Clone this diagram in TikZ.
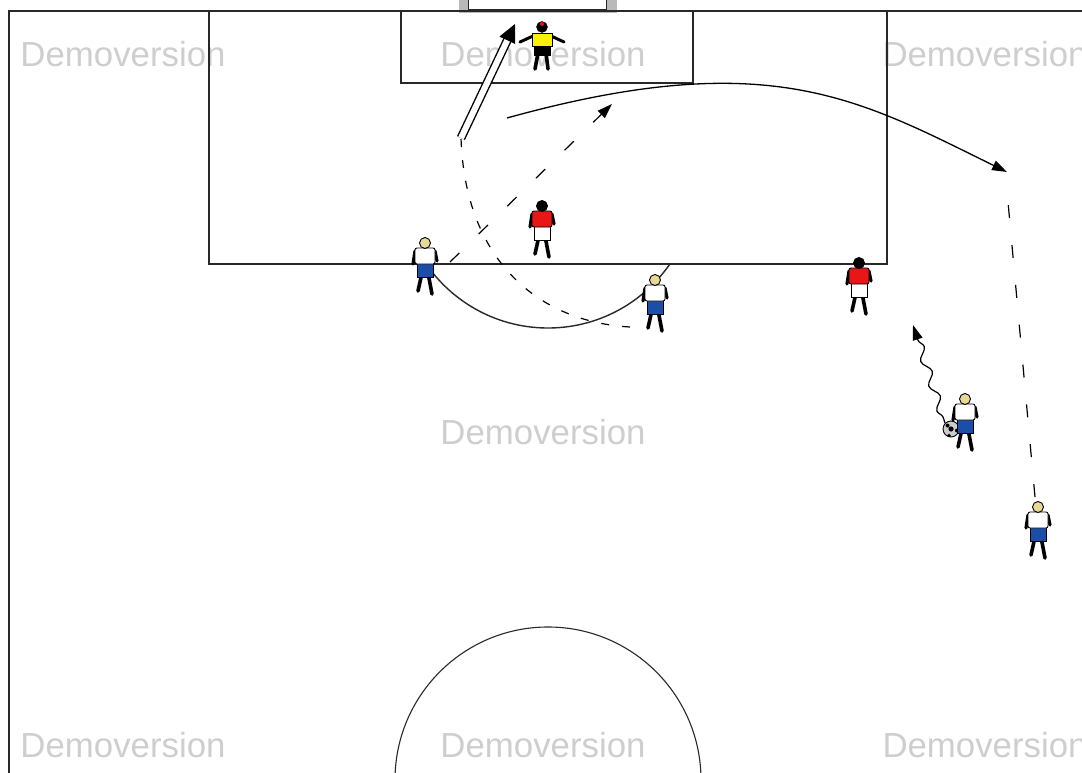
\documentclass[tikz,border=0pt]{standalone}
\usepackage{fontspec}
\setmainfont{Liberation Sans}
\usetikzlibrary{arrows.meta,decorations.pathmorphing}

\definecolor{markgray}{RGB}{206,206,206}
\definecolor{linegray}{RGB}{40,40,40}
\definecolor{shirtred}{RGB}{232,22,22}
\definecolor{shortsblue}{RGB}{28,78,168}
\definecolor{keeperyellow}{RGB}{250,240,10}
\definecolor{hairblond}{RGB}{232,216,150}

\tikzset{
  pics/player/.style n args={3}{code={
    \draw[line width=3.6pt, line cap=round] (-3,30) -- (-7,48) (3,30) -- (7,51);
    \filldraw[fill=#2, line width=0.9pt] (-8,19) rectangle (8,34);
    \draw[line width=3.2pt, line cap=round] (-10,8) -- (-12,21) (10,8) -- (12,18);
    \filldraw[fill=#1, line width=0.9pt, rounded corners=2pt] (-10,5) rectangle (10,21);
    \filldraw[fill=#3, line width=0.9pt] (0,0) circle (5.5);
  }},
  pics/keeper/.style={code={
    \draw[line width=3.6pt, line cap=round] (-4,26) -- (-7,42) (4,26) -- (6,42);
    \filldraw[fill=black] (-8,17) rectangle (8,28);
    \draw[line width=3pt, line cap=round] (-9,9) -- (-22,15) (9,9) -- (22,15);
    \filldraw[fill=keeperyellow, line width=0.9pt] (-10,6) rectangle (10,19);
    \filldraw[fill=black] (0,0) circle (5.5);
    \fill[shirtred] (0,-3) circle (2);
  }}
}

\begin{document}
\begin{tikzpicture}[
    x=1pt, y=-1pt,
    watermark/.style={text=markgray, anchor=base, inner sep=0pt,
      font=\fontsize{34.8}{40}\selectfont},
    pitch/.style={draw=linegray, line width=1.4pt},
    pass/.style={draw=black, line width=1.3pt, -{Triangle[length=15pt,width=10pt]}},
    run/.style={draw=black, line width=1.2pt, dash pattern=on 13pt off 27pt},
    runcurve/.style={draw=black, line width=1.2pt, dash pattern=on 8pt off 13pt},
    shot/.style={draw=black, line width=1.4pt, double=white, double distance=6pt,
      -{Triangle[length=18pt,width=17pt]}},
    dribble/.style={draw=black, line width=1.2pt, decorate,
      decoration={snake, amplitude=4pt, segment length=26pt, pre length=6pt, post length=14pt},
      -{Triangle[length=15pt,width=10pt]}}
    ]

    \useasboundingbox (0,0) rectangle (1082,773);
    \clip (0,0) rectangle (1082,773);

    \path foreach \x/\y [count=\i] in {123/67,543/67,985/67,543/444,123/757,543/757,985/757}
      {(\x,\y) node[watermark] (wm\i) {Demoversion}};

    % goal
    \fill[gray!55] (459,-2) rectangle (617,13);
    \fill[white] (468,-2) rectangle (606,10);
    \draw[linegray, line width=1pt] (468,-2) -- (468,10) -- (606,10) -- (606,-2);

    % lines of the pitch
    \draw[pitch] (1090,11) -- (9,11) -- (9,790);
    \draw[pitch] (209,11) rectangle (887,264);
    \draw[pitch] (401,11) rectangle (693,83);
    \begin{scope}
      \clip (0,264) rectangle (1082,420);
      \draw[pitch] (548,180) circle (148);
    \end{scope}
    \draw[pitch, line width=1.1pt] (548,780) circle (153);

    % ends of the moves
    \coordinate (shotfrom) at (461,138);
    \coordinate (shotto) at (515,24);
    \coordinate (runb) at (630,327);
    \coordinate (runa) at (450,262);
    \coordinate (runato) at (612,104);
    \coordinate (passfrom) at (507,118);
    \coordinate (passto) at (1007,172);
    \coordinate (rund) at (1035,497);
    \coordinate (rundto) at (1006,180);
    \coordinate (dribbleto) at (913,325);

    \node[circle, draw, line width=0.9pt, fill=gray!40, minimum size=16pt, inner sep=0pt]
      (ball) at (951,429) {};
    \fill (ball.center) circle (2.6) (ball.north west) ++(2.5,2.5) circle (2)
          (ball.east) ++(-2.5,1.5) circle (2) (ball.south) ++(-2,-2) circle (1.8);

    \draw[runcurve] (runb) .. controls (540,322) and (465,262) .. (shotfrom);
    \draw[shot] (shotfrom) -- (shotto);
    \draw[run, -{Triangle[length=15pt,width=10pt]}] (runa) -- (runato);
    \draw[pass] (passfrom) .. controls (770,45) and (860,100) .. (passto);
    \draw[run] (rund) -- (rundto);
    \draw[dribble] (ball.north west) -- (dribbleto);

    % players
    \pic at (542,27) {keeper};
    \pic at (542,206) {player={shirtred}{white}{black}};
    \pic at (859,263) {player={shirtred}{white}{black}};
    \pic at (425,243) {player={white}{shortsblue}{hairblond}};
    \pic at (655,280) {player={white}{shortsblue}{hairblond}};
    \pic at (965,399) {player={white}{shortsblue}{hairblond}};
    \pic at (1038,507) {player={white}{shortsblue}{hairblond}};

\end{tikzpicture}
\end{document}
